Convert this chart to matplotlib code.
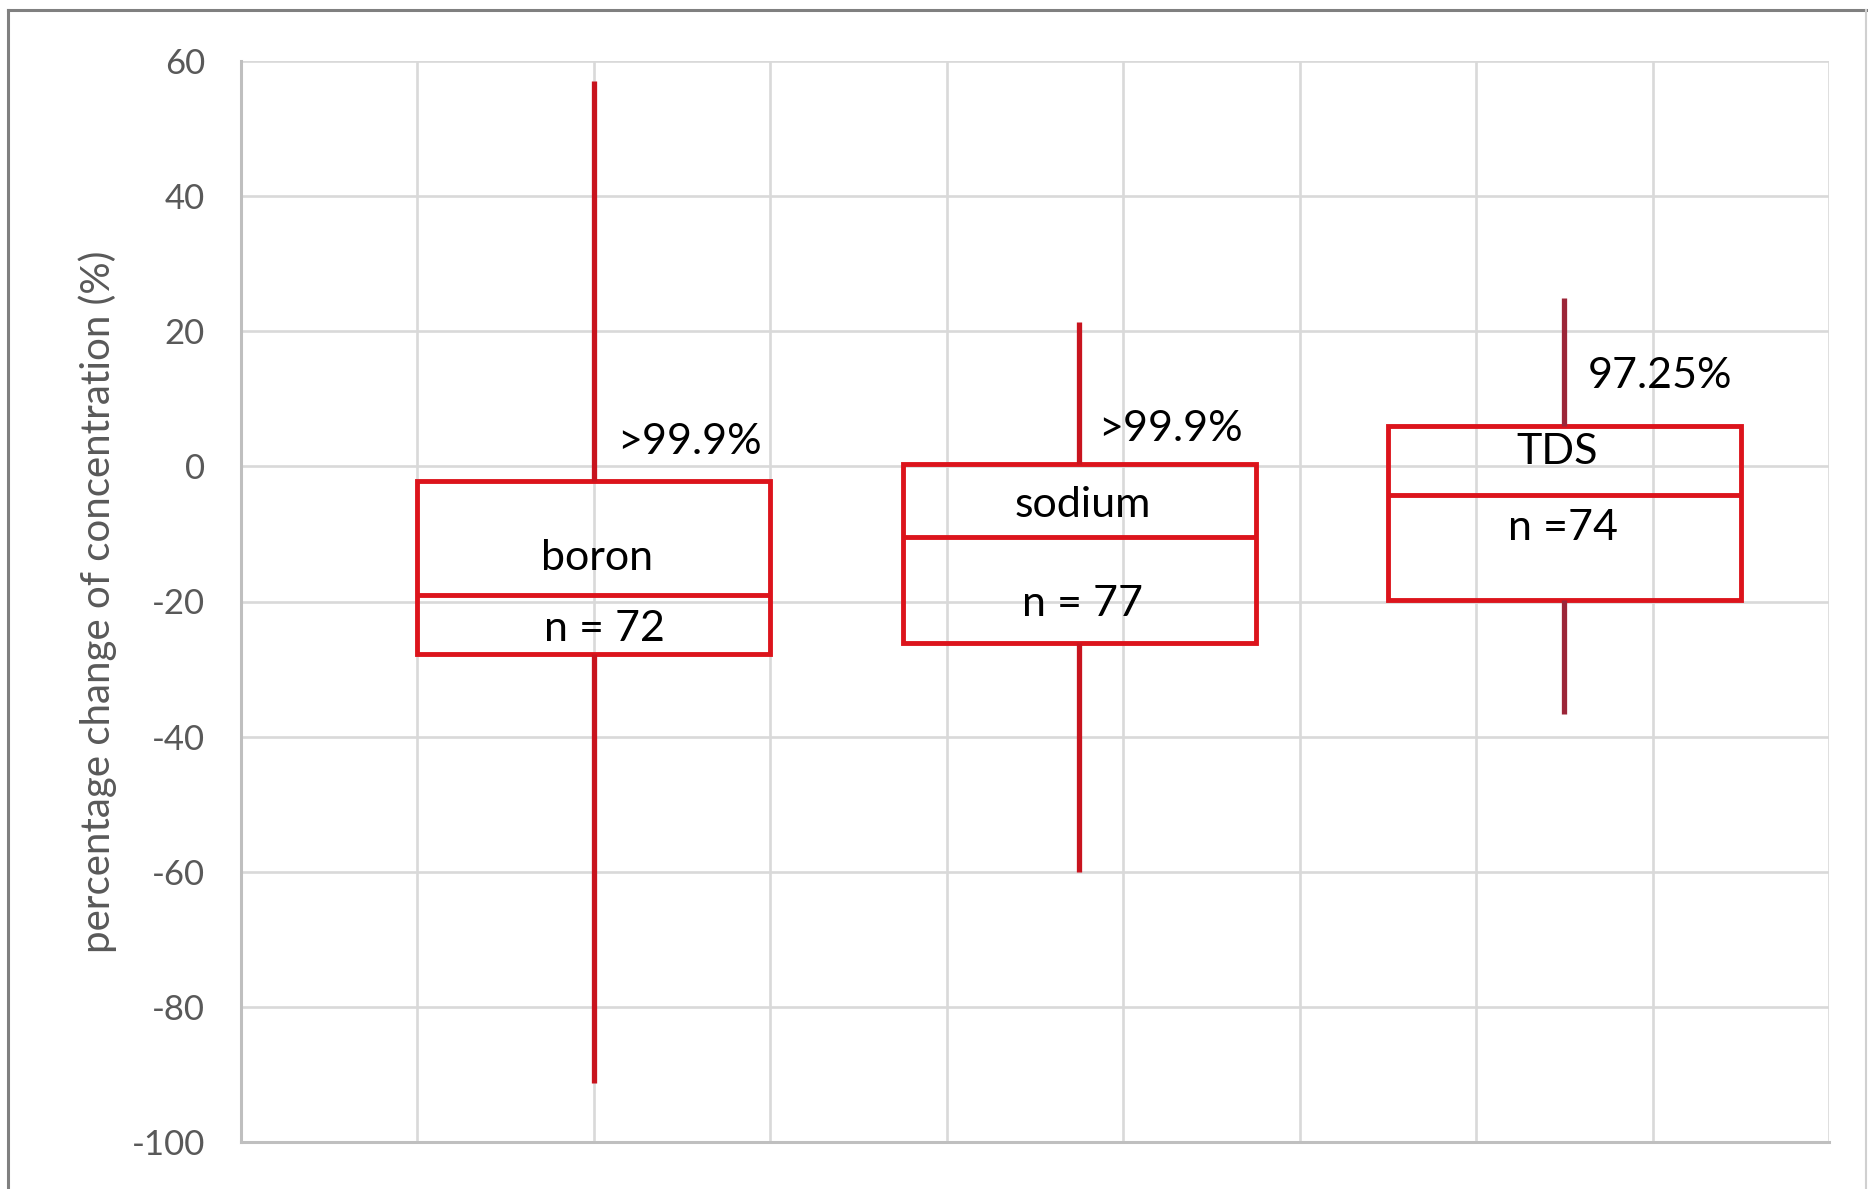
import matplotlib.pyplot as plt
from matplotlib.lines import Line2D

plt.rcParams['font.family'] = ['Lato', 'DejaVu Sans']
plt.rcParams['axes.unicode_minus'] = False

# box statistics per parameter (percentage change of concentration)
names = ["boron", "sodium", "TDS"]
counts = ["n = 72", "n = 77", "n =74"]
removal = [">99.9%", ">99.9%", "97.25%"]
positions = [2, 4.75, 7.5]
whisker_min = [-91.3, -60.0, -36.7]
q1 = [-27.7, -26.2, -19.8]
median = [-19.1, -10.5, -4.2]
q3 = [-2.1, 0.4, 6.0]
whisker_max = [57.0, 21.4, 24.9]

# label placement (x, y in data units)
name_xy = [(2.02, -13.6), (4.77, -5.7), (7.46, 2.1)]
count_xy = [(2.06, -24.1), (4.77, -20.4), (7.49, -9.1)]
removal_xy = [(2.13, 3.6), (4.86, 5.5), (7.63, 13.4)]

box_color = "#DC141C"
whisker_colors = ["#C8141E", "#C8141E", "#9C2638"]

fig = plt.figure(figsize=(18.68, 11.89), dpi=100)
ax = fig.add_axes([241 / 1868, 1 - 1142 / 1189, (1829 - 241) / 1868, (1142 - 61) / 1189])

ax.set_xlim(0, 9)
ax.set_ylim(-100, 60)
ax.set_xticks(range(0, 10))
ax.set_yticks(range(-100, 61, 20))
ax.set_xticklabels([])
ax.grid(True, color="#D9D9D9", lw=1.9)
ax.set_axisbelow(True)
ax.tick_params(length=0, labelsize=25, labelcolor="#595959", pad=26)
for side in ["top", "right"]:
    ax.spines[side].set_visible(False)
for side in ["left", "bottom"]:
    ax.spines[side].set_color("#BFBFBF")
    ax.spines[side].set_linewidth(2.2)

for i in range(len(names)):
    x = positions[i]
    ax.bar(x, q3[i] - q1[i], bottom=q1[i], width=2, fill=False,
           edgecolor=box_color, lw=3.5, zorder=3)
    ax.hlines(median[i], x - 1, x + 1, color=box_color, lw=3.5, zorder=3)
    ax.vlines(x, q3[i], whisker_max[i], color=whisker_colors[i], lw=3.8, zorder=3)
    ax.vlines(x, whisker_min[i], q1[i], color=whisker_colors[i], lw=3.8, zorder=3)
    ax.text(*name_xy[i], names[i], ha="center", va="center", fontsize=31, color="black")
    ax.text(*count_xy[i], counts[i], ha="center", va="center", fontsize=31, color="black")
    ax.text(*removal_xy[i], removal[i], ha="left", va="center", fontsize=31, color="black")

ax.set_ylabel("percentage change of concentration (%)", fontsize=29, color="#595959")
ax.yaxis.set_label_coords(-0.078, 0.5)

# outer chart frame
fig.add_artist(Line2D([8 / 1868, 8 / 1868], [0, 1 - 10 / 1189], color="#808080", lw=2.2))
fig.add_artist(Line2D([8 / 1868, 1866 / 1868], [1 - 10 / 1189, 1 - 10 / 1189], color="#808080", lw=2.2))
fig.add_artist(Line2D([1866 / 1868, 1866 / 1868], [0, 1 - 10 / 1189], color="#D0D0D0", lw=1.5))

fig.savefig("out.png", dpi=100)
